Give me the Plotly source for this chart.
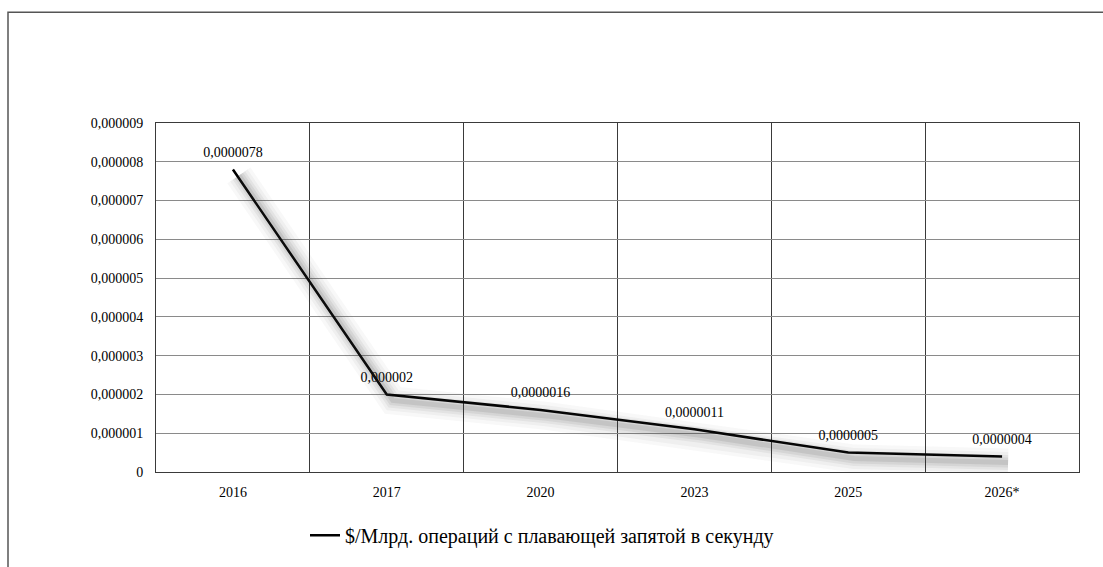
import plotly.graph_objects as go

# Cost per billion floating-point operations per second, by year
years = ["2016", "2017", "2020", "2023", "2025", "2026*"]
cost_per_gflops = [0.0000078, 0.000002, 0.0000016, 0.0000011, 0.0000005, 0.0000004]
series_name = "$/Млрд. операций с плавающей запятой в секунду"

y_tick_values = [0, 1e-6, 2e-6, 3e-6, 4e-6, 5e-6, 6e-6, 7e-6, 8e-6, 9e-6]
y_tick_labels = ["0", "0,000001", "0,000002", "0,000003", "0,000004",
                 "0,000005", "0,000006", "0,000007", "0,000008", "0,000009"]


def fmt(v):
    s = f"{v:.7f}".rstrip("0").rstrip(".")
    return s.replace(".", ",")


labels = [fmt(v) for v in cost_per_gflops]

FONT = "'Liberation Serif', 'Times New Roman', Times, serif"
W, H = 1103, 567
L, R, T, B = 156, 24, 123, 91
plot_w = W - L - R
plot_h = H - T - B
y_max = 9e-6

# soft drop shadow: same data on overlaid axes shifted a few pixels right/down
dx_px, dy_px = 6, 6
x_shift = dx_px / (plot_w / len(years))
y_shift = dy_px / plot_h * y_max

fig = go.Figure()

for width, alpha in [(28, 0.035), (21, 0.045), (15, 0.06), (10, 0.08), (5, 0.1)]:
    fig.add_trace(go.Scatter(
        x=years, y=cost_per_gflops, mode="lines",
        line=dict(color=f"rgba(50,50,50,{alpha})", width=width),
        xaxis="x2", yaxis="y2", showlegend=False, hoverinfo="skip",
    ))

fig.add_trace(go.Scatter(
    x=years, y=cost_per_gflops, mode="lines+markers+text",
    name=series_name,
    line=dict(color="black", width=2.5),
    marker=dict(size=13, color="rgba(0,0,0,0)"),
    text=labels, textposition="top center",
    textfont=dict(family=FONT, size=14, color="black"),
))

fig.update_layout(
    width=W, height=H,
    margin=dict(l=L, r=R, t=T, b=B),
    paper_bgcolor="white", plot_bgcolor="white",
    font=dict(family=FONT, size=14, color="black"),
    xaxis=dict(
        type="category", tickson="boundaries", showgrid=True,
        gridcolor="#3a3a3a", gridwidth=1, ticks="", ticklen=0,
        showline=True, linecolor="#3a3a3a", linewidth=1, mirror=True,
        range=[-0.5, 5.5], tickfont=dict(family=FONT, size=14),
        ticklabelstandoff=7, zeroline=False,
    ),
    yaxis=dict(
        range=[0, y_max], tickvals=y_tick_values, ticktext=y_tick_labels,
        showgrid=True, gridcolor="#8a8a8a", gridwidth=1,
        showline=True, linecolor="#3a3a3a", linewidth=1, mirror=True,
        zeroline=False, ticks="", ticklen=0, ticklabelstandoff=9,
        tickfont=dict(family=FONT, size=14),
    ),
    xaxis2=dict(
        type="category", overlaying="x", range=[-0.5 - x_shift, 5.5 - x_shift],
        visible=False, showgrid=False,
    ),
    yaxis2=dict(
        overlaying="y", range=[y_shift, y_max + y_shift],
        visible=False, showgrid=False,
    ),
    legend=dict(
        orientation="h", x=(305 - L) / plot_w, xanchor="left",
        y=-(540 - (H - B)) / plot_h, yanchor="middle",
        font=dict(family=FONT, size=20, color="black"),
        bgcolor="rgba(0,0,0,0)",
    ),
    showlegend=True,
)

# outer chart frame (left and top edges visible)
fig.add_shape(
    type="rect", xref="paper", yref="paper",
    x0=(8 - L) / plot_w, x1=2.0,
    y0=-1.0, y1=1 + (T - 11) / plot_h,
    line=dict(color="#555555", width=1.5), fillcolor="rgba(0,0,0,0)",
    layer="below",
)

fig.write_html("out.html")
